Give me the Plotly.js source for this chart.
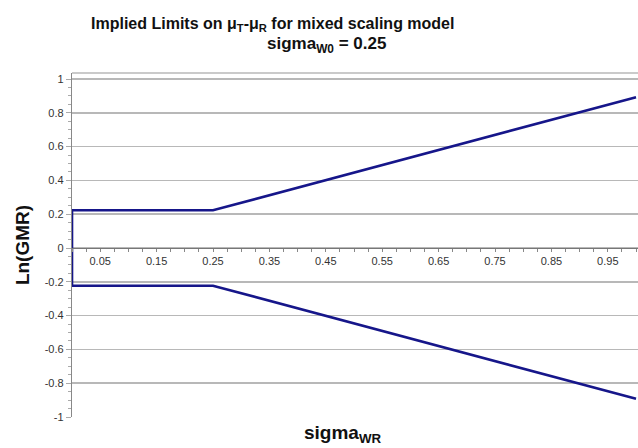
<!DOCTYPE html>
<html>
<head>
<meta charset="utf-8">
<script src="https://cdn.plot.ly/plotly-3.0.1.min.js"></script>
<style>html,body{margin:0;padding:0;background:#fff;}#chart{width:638px;height:448px;}</style>
</head>
<body>
<div id="chart"></div>
<script>
// Data
var sigmaWR = [1.0, 0.25, 0.0, 0.0, 0.25, 1.0];
var lnGMR   = [0.8926, 0.2231, 0.2231, -0.2231, -0.2231, -0.8926];
var xTickVals = [0.05, 0.15, 0.25, 0.35, 0.45, 0.55, 0.65, 0.75, 0.85, 0.95];
var xTickText = ['0.05','0.15','0.25','0.35','0.45','0.55','0.65','0.75','0.85','0.95'];
var yTickVals = [-1, -0.8, -0.6, -0.4, -0.2, 0, 0.2, 0.4, 0.6, 0.8, 1];
var yTickText = ['-1','-0.8','-0.6','-0.4','-0.2','0','0.2','0.4','0.6','0.8','1'];

var yRange = [-1, 1.0355];
var xRange = [0, 1.0035];
var zeroPos = (0 - yRange[0]) / (yRange[1] - yRange[0]);

var trace = {
  x: sigmaWR, y: lnGMR, type: 'scatter', mode: 'lines',
  line: {color: '#16168a', width: 2.6},
  hoverinfo: 'skip', showlegend: false
};

var layout = {
  width: 638, height: 448,
  margin: {l: 72, r: 0, t: 73, b: 31},
  paper_bgcolor: '#ffffff', plot_bgcolor: '#ffffff',
  font: {family: 'Liberation Sans, Arial, sans-serif', color: '#333333'},
  xaxis: {
    range: xRange, anchor: 'free', position: zeroPos,
    showgrid: false, zeroline: false,
    showline: true, linecolor: '#777777', linewidth: 1,
    tickmode: 'array', tickvals: xTickVals, ticktext: xTickText,
    ticks: 'outside', ticklen: 3, tickcolor: '#888888', tickwidth: 1,
    minor: {dtick: 0.025, tick0: 0, ticks: 'outside', ticklen: 3, tickcolor: '#888888', showgrid: false},
    tickfont: {size: 11, color: '#333333'},
    fixedrange: true
  },
  yaxis: {
    range: yRange,
    showgrid: true, gridcolor: '#b8b8b8', gridwidth: 1.5,
    zeroline: false,
    showline: true, linecolor: '#888888', linewidth: 1.2,
    tickmode: 'array', tickvals: yTickVals, ticktext: yTickText,
    ticks: 'outside', ticklen: 5, tickcolor: '#aaaaaa',
    minor: {dtick: 0.05, tick0: 0, ticks: 'outside', ticklen: 3, tickcolor: '#aaaaaa', showgrid: false},
    tickfont: {size: 11, color: '#333333'},
    title: {text: 'Ln(GMR)', font: {size: 19, color: '#111111', family: 'Liberation Sans, Arial, sans-serif', weight: 'bold'}, standoff: 10},
    fixedrange: true
  },
  shapes: [
    {type: 'line', xref: 'paper', yref: 'paper', x0: 0, x1: 1, y0: 1, y1: 1,
     line: {color: '#b8b8b8', width: 1.5}}
  ],
  annotations: [
    {text: '<b>Implied Limits on μ<sub>T</sub>-μ<sub>R</sub> for mixed scaling model</b>',
     xref: 'paper', yref: 'paper', x: (272 - 72) / 566, y: 1, yshift: 49, xanchor: 'center', yanchor: 'middle',
     showarrow: false, font: {size: 16, color: '#111111'}},
    {text: '<b>sigma<sub>W0</sub> = 0.25</b>',
     xref: 'paper', yref: 'paper', x: (326 - 72) / 566, y: 1, yshift: 28, xanchor: 'center', yanchor: 'middle',
     showarrow: false, font: {size: 17, color: '#111111'}},
    {text: '<b>sigma<sub>WR</sub></b>',
     xref: 'paper', yref: 'paper', x: (342 - 72) / 566, y: 0, yshift: -17, xanchor: 'center', yanchor: 'middle',
     showarrow: false, font: {size: 19, color: '#111111'}}
  ]
};

Plotly.newPlot('chart', [trace], layout, {displayModeBar: false, staticPlot: true});
</script>
</body>
</html>
